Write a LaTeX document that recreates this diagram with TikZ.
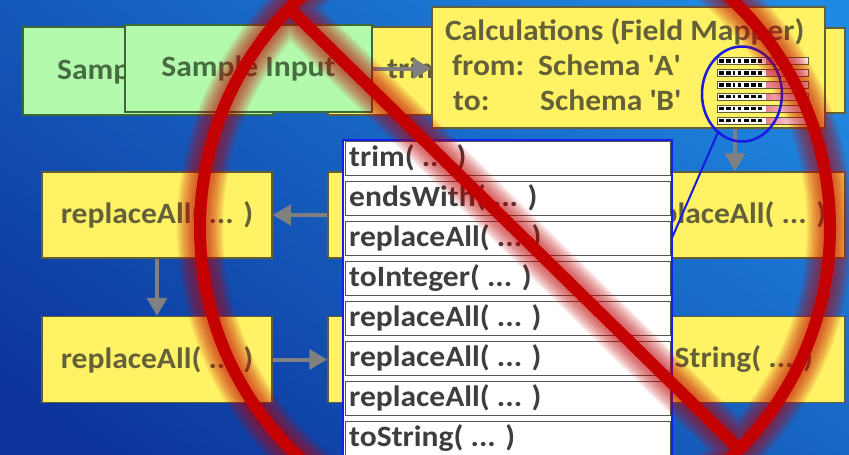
\documentclass[tikz,border=0pt]{standalone}
\usepackage{fontspec}
\setmainfont{Carlito}[FakeStretch=1.07]
\usetikzlibrary{arrows.meta,shapes.geometric}
\definecolor{bgA}{RGB}{32,138,226}
\definecolor{bgB}{RGB}{12,52,155}
\definecolor{yfill}{RGB}{255,242,100}
\definecolor{yborder}{RGB}{100,94,52}
\definecolor{ytext}{RGB}{100,97,58}
\definecolor{gfill}{RGB}{180,250,172}
\definecolor{gborder}{RGB}{62,105,52}
\definecolor{gtext}{RGB}{72,108,66}
\definecolor{arrgray}{RGB}{128,128,128}
\definecolor{listtext}{RGB}{62,62,62}
\definecolor{listline}{RGB}{85,85,85}
\definecolor{panelblue}{RGB}{20,30,240}
\definecolor{noRed}{RGB}{196,0,0}
\definecolor{ringblue}{RGB}{25,25,225}
\definecolor{minipink}{RGB}{232,130,140}
\begin{document}
\begin{tikzpicture}[x=1pt,y=-1pt,
  bigfont/.style={font=\bfseries\fontsize{29.5}{33}\selectfont},
  ybox/.style={draw=yborder, fill=yfill, line width=1.5pt, minimum width=230pt, minimum height=86pt, inner sep=0pt, text=ytext, bigfont},
  gbox/.style={draw=gborder, fill=gfill, line width=2pt, inner sep=0pt, text=gtext, bigfont},
  flow/.style={draw=arrgray, line width=4pt, -{Triangle[length=18pt,width=20pt]}},
  rowtext/.style={anchor=base west, inner sep=0pt, text=listtext, bigfont},
  calctext/.style={anchor=base west, inner sep=0pt, text=ytext, bigfont},
  rowbox/.style={draw=listline, line width=1pt, fill=white}
]
\useasboundingbox (0,0) rectangle (849,455);
\clip (0,0) rectangle (849,455);
% background
\shade[top color=bgA, bottom color=bgB, shading angle=-35] (-60,-60) rectangle (910,515);

% top row
\node[ybox, minimum width=230pt, minimum height=88pt] (trimbox) at (443,71) {};
\node[calctext, text=ytext] (trimTxt) at (387,78) {trim};
\node[ybox, minimum width=230pt, minimum height=85pt] (topright) at (730,70.5) {};
\node[gbox, minimum width=250pt, minimum height=88pt] (g1) at (148,71) {};
\node[calctext, text=gtext] (g1Txt) at (57,79) {Samp};
\node[gbox, minimum width=247pt, minimum height=87pt] (g2) at (248.5,68.5) {Sample Input};
\node[draw=yborder, fill=yfill, line width=2pt, minimum width=393pt, minimum height=121pt, inner sep=0pt] (calc) at (628.5,67.5) {};
\node[calctext] (calcTitle) at (445,40) {Calculations (Field Mapper)};
\node[calctext] (fromLbl) at (452,75) {from:};
\node[calctext] (fromVal) at (538,75) {Schema \textquotesingle A\textquotesingle};
\node[calctext] (toLbl) at (453,110) {to:};
\node[calctext] (toVal) at (540,110) {Schema \textquotesingle B\textquotesingle};

% mini table
\foreach \i in {0,...,5} {
  \pgfmathsetmacro\yy{57.5+11.9*\i}
  \fill[white] (717,\yy) rectangle (808,\yy+7);
  \shade[left color=minipink, right color=white] (766,\yy) rectangle (806,\yy+7);
  \foreach \a/\b in {719/724, 725.5/731, 732.5/735, 738/741, 743.5/749, 750.5/756, 757.5/762} {
    \fill[black] (\a,\yy+1.8) rectangle (\b,\yy+5.2);
  }
  \draw[yborder, line width=0.9pt] (717,\yy) rectangle (808,\yy+7);
}

% rows of boxes
\node[ybox] (L1) at (157,215) {replaceAll( ... )};
\node[ybox] (M1) at (443,215) {};
\node[ybox] (R1) at (730,215) {replaceAll( ... )};
\node[ybox] (L2) at (157,359.5) {replaceAll( ... )};
\node[ybox] (M2) at (443,359.5) {};
\node[ybox] (R2) at (730,359.5) {toString( ... )};

% connectors
\draw[flow] (g2.east) -- (g2.east -| calc.west);
\draw[flow] ([xshift=5pt]R1.north |- calc.south) -- ([xshift=5pt]R1.north);
\draw[flow] (M1.west) -- (L1.east);
\draw[flow] (L1.south) -- (L2.north);
\draw[flow] (L2.east) -- (M2.west);

% list panel
\node[fill=white, minimum width=329pt, minimum height=330pt, inner sep=0pt] (panel) at (507.5,305) {};
\foreach \i in {0,...,7} {
  \draw[rowbox] (345,141+40*\i) rectangle (670,175+40*\i);
}
\draw[panelblue, line width=2.5pt] (panel.south west) rectangle (panel.north east);
\node[rowtext] (r0) at (349,166) {trim( ... )};
\node[rowtext] (r1) at (349,206) {endsWith( ... )};
\node[rowtext] (r2) at (349,246) {replaceAll( ... )};
\node[rowtext] (r3) at (349,286) {toInteger( ... )};
\node[rowtext] (r4) at (349,326) {replaceAll( ... )};
\node[rowtext] (r5) at (349,366) {replaceAll( ... )};
\node[rowtext] (r6) at (349,406) {replaceAll( ... )};
\node[rowtext] (r7) at (349,446) {toString( ... )};

% zoom ring
\node[draw=ringblue, line width=2.5pt, ellipse, minimum width=80pt, minimum height=95pt, inner sep=0pt] (ring) at (742,94) {};
\coordinate (pin) at (672,238);
\draw[ringblue, line width=2pt] (ring.238) -- (pin);

% prohibition sign with soft glow
\foreach \w in {46,43,40,37,34,31,28,25,22,19,16} {
  \draw[noRed, line width=\w pt, opacity=0.075] (515,228) circle[radius=315pt] (289,8) -- (737,447);
}
\draw[noRed, line width=12pt] (515,228) circle[radius=315pt] (289,8) -- (737,447);
\end{tikzpicture}
\end{document}
